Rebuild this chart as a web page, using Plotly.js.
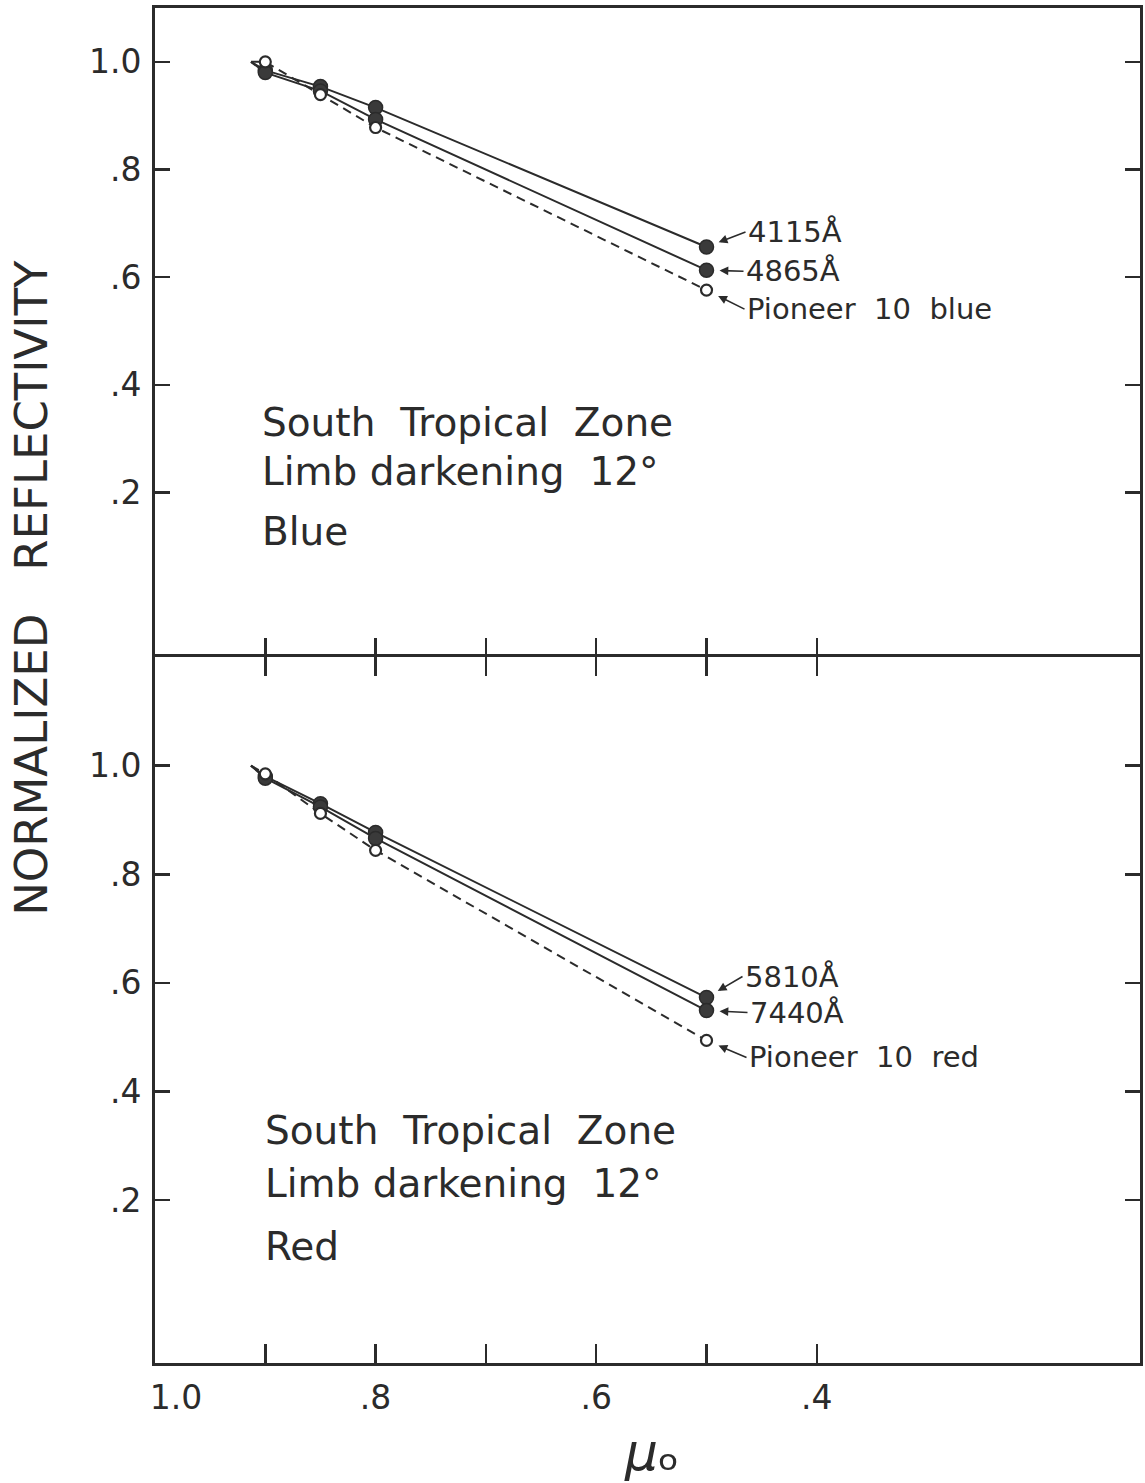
<!DOCTYPE html>
<html>
<head>
<meta charset="utf-8">
<script src="https://cdn.plot.ly/plotly-3.0.1.min.js"></script>
<style>
  html, body { margin: 0; padding: 0; background: #fff; }
  #chart { width: 1145px; height: 1483px; }
</style>
</head>
<body>
<div id="chart"></div>
<script>
// Limb darkening of the South Tropical Zone, normalized reflectivity vs mu0
const mu = [0.9, 0.85, 0.8, 0.5];
// curves are normalized to unit reflectivity at this mu0
const normMu = 0.913;
const normValue = 1.0;

// blue panel
const blue4115 = [0.984, 0.954, 0.915, 0.656];
const blue4865 = [0.980, 0.946, 0.893, 0.613];
const pioneerBlue = [1.000, 0.939, 0.878, 0.576];

// red panel
const red5810 = [0.980, 0.930, 0.877, 0.573];
const red7440 = [0.977, 0.924, 0.866, 0.549];
const pioneerRed = [0.985, 0.912, 0.844, 0.494];

const xTickVals = [1.0, 0.9, 0.8, 0.7, 0.6, 0.5, 0.4];
const xTickText = ['\u00a0\u00a0\u00a0\u00a01.0', '', '.8', '', '.6', '', '.4'];
const yTickVals = [0.2, 0.4, 0.6, 0.8, 1.0];
const yTickText = ['.2', '.4', '.6', '.8', '1.0'];

const ink = '#2b2b2b';
const FONT = 'DejaVu Sans, Liberation Sans, sans-serif';

function lineTrace(vals, xa, ya, dashed) {
  return {
    x: [normMu].concat(mu), y: [normValue].concat(vals),
    xaxis: xa, yaxis: ya, mode: 'lines', hoverinfo: 'skip',
    line: { color: ink, width: 2, dash: dashed ? '9px,6px' : 'solid' }
  };
}
function markTrace(vals, xa, ya, open) {
  return {
    x: mu, y: vals, xaxis: xa, yaxis: ya, mode: 'markers', hoverinfo: 'skip',
    marker: {
      size: open ? 11 : 14, color: open ? '#ffffff' : '#3a3a3a',
      line: { color: ink, width: open ? 2.2 : 1.5 }
    }
  };
}

const data = [
  lineTrace(blue4115, 'x2', 'y2', false),
  lineTrace(blue4865, 'x2', 'y2', false),
  lineTrace(pioneerBlue, 'x2', 'y2', true),
  markTrace(blue4115, 'x2', 'y2', false),
  markTrace(blue4865, 'x2', 'y2', false),
  markTrace(pioneerBlue, 'x2', 'y2', true),
  lineTrace(red5810, 'x', 'y', false),
  lineTrace(red7440, 'x', 'y', false),
  lineTrace(pioneerRed, 'x', 'y', true),
  markTrace(red5810, 'x', 'y', false),
  markTrace(red7440, 'x', 'y', false),
  markTrace(pioneerRed, 'x', 'y', true)
];

const axisCommon = {
  showgrid: false, zeroline: false, showline: true,
  linecolor: ink, linewidth: 3, ticks: 'inside',
  tickcolor: ink, tickwidth: 2.5
};

function label(text, x, y, ref, ax, ay, size) {
  return {
    text: text, x: x, y: y, xref: 'x' + ref, yref: 'y' + ref,
    showarrow: true, ax: ax, ay: ay, xanchor: 'left', yanchor: 'middle',
    arrowhead: 2, arrowsize: 1.1, arrowwidth: 1.6, arrowcolor: ink,
    standoff: 13, font: { family: FONT, size: size || 29, color: ink }
  };
}
function note(text, x, y, ref) {
  return {
    text: text, x: x, y: y, xref: 'x' + ref, yref: 'y' + ref,
    showarrow: false, xanchor: 'left', yanchor: 'middle',
    font: { family: FONT, size: 39, color: ink }
  };
}
const sp = '\u00a0\u00a0';
const sp3 = '\u00a0\u00a0\u00a0';

const layout = {
  width: 1145, height: 1483,
  margin: { l: 155, r: 5, t: 8, b: 120 },
  paper_bgcolor: '#ffffff', plot_bgcolor: '#ffffff',
  showlegend: false,
  font: { family: FONT, color: ink },
  xaxis: Object.assign({}, axisCommon, {
    range: [1.0, 0.107], anchor: 'y', mirror: 'ticks', ticklen: 19,
    tickvals: xTickVals, ticktext: xTickText,
    tickfont: { family: FONT, size: 33, color: ink }, ticklabelstandoff: 3
  }),
  xaxis2: Object.assign({}, axisCommon, {
    range: [1.0, 0.107], anchor: 'y2', matches: 'x', mirror: true, ticklen: 16,
    tickvals: xTickVals, showticklabels: false
  }),
  yaxis: Object.assign({}, axisCommon, {
    range: [-0.1, 1.2], domain: [0, 0.521], anchor: 'x', mirror: 'ticks', ticklen: 15,
    tickvals: yTickVals, ticktext: yTickText,
    tickfont: { family: FONT, size: 33, color: ink }, ticklabelstandoff: 4
  }),
  yaxis2: Object.assign({}, axisCommon, {
    range: [-0.1, 1.1], domain: [0.5232, 1], anchor: 'x2', mirror: 'ticks', ticklen: 15,
    tickvals: yTickVals, ticktext: yTickText,
    tickfont: { family: FONT, size: 33, color: ink }, ticklabelstandoff: 4
  }),
  annotations: [
    label('4115Å', 0.5, blue4115[3], '2', 39, -15),
    label('4865Å', 0.5, blue4865[3], '2', 37, 1),
    label('Pioneer' + sp + '10' + sp + 'blue', 0.5, pioneerBlue[3], '2', 38, 19, 29),
    label('5810Å', 0.5, red5810[3], '', 36, -21),
    label('7440Å', 0.5, red7440[3], '', 41, 2),
    label('Pioneer' + sp + '10' + sp + 'red', 0.5, pioneerRed[3], '', 40, 17, 29),
    note('South' + sp + 'Tropical' + sp + 'Zone', 0.905, 0.331, '2'),
    note('Limb darkening' + sp + '12°', 0.905, 0.239, '2'),
    note('Blue', 0.905, 0.128, '2'),
    note('South' + sp + 'Tropical' + sp + 'Zone', 0.902, 0.329, ''),
    note('Limb darkening' + sp + '12°', 0.902, 0.231, ''),
    note('Red', 0.902, 0.115, ''),
    {
      text: 'NORMALIZED' + sp3 + 'REFLECTIVITY', textangle: -90,
      xref: 'paper', yref: 'paper', x: -0.125, y: 0.572,
      xanchor: 'center', yanchor: 'middle', showarrow: false,
      font: { family: FONT, size: 45, color: ink }
    },
    {
      text: '<i>μ</i>ₒ',
      xref: 'paper', yref: 'paper', x: 0.505, y: -0.066,
      xanchor: 'center', yanchor: 'middle', showarrow: false,
      font: { family: FONT, size: 52, color: ink }
    }
  ]
};

Plotly.newPlot('chart', data, layout, { displayModeBar: false, staticPlot: true });
</script>
</body>
</html>
